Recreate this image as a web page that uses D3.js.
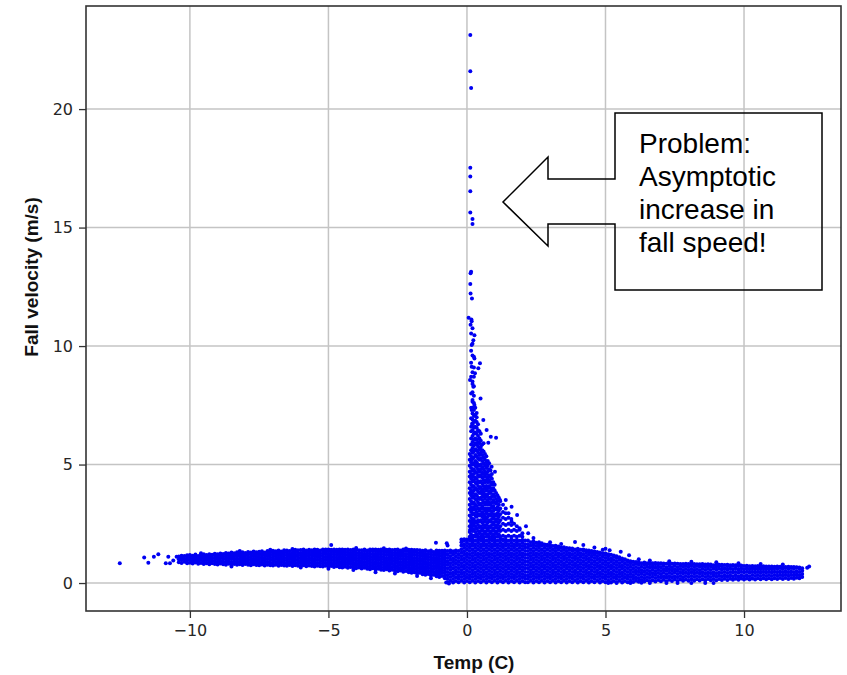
<!DOCTYPE html>
<html>
<head>
    <meta charset="utf-8">
    <title>Fall velocity vs Temp</title>
    <script type="text/javascript" src="https://cdn.jsdelivr.net/npm/d3@7"></script>
    <style>
        body { margin: 0; background: #fff; }
        .tick text { font-family: "DejaVu Sans", sans-serif; font-size: 16px; fill: #262626; }
        .label { font-family: "Liberation Sans", Arial, sans-serif; font-weight: bold; font-size: 19px; fill: #111; }
        .note { font-family: "Liberation Sans", Arial, sans-serif; font-size: 28px; fill: #000; }
    </style>
</head>
<body>
<script type="text/javascript">

    // tick values
    var xTicks = [-10, -5, 0, 5, 10];
    var yTicks = [0, 5, 10, 15, 20];
    var noteLines = ["Problem:", "Asymptotic", "increase in", "fall speed!"];

    // dense band below freezing: [temp, speed, speed, ...]
    var coldBand = [
        [-10.4,.88,1.0,1.12],[-10.3,.85,.97,1.08,1.15],[-10.2,.9,1.02,1.14],[-10.1,.83,.95,1.06,1.17],
        [-10.0,.86,.98,1.1,1.18],[-9.9,.82,.93,1.04,1.15],[-9.8,.87,.99,1.11,1.2],[-9.7,.81,.92,1.03,1.14],
        [-9.6,.85,.97,1.09,1.19],[-9.5,.8,.91,1.02,1.13,1.21],[-9.4,.84,.96,1.08,1.18],[-9.3,.79,.9,1.01,1.12,1.22],
        [-9.2,.83,.95,1.07,1.19],[-9.1,.8,.92,1.04,1.15,1.24],[-9.0,.78,.89,1.0,1.11,1.21],[-8.9,.82,.94,1.06,1.17,1.25],
        [-8.8,.79,.9,1.02,1.13,1.23],[-8.7,.77,.88,.99,1.1,1.21,1.27],[-8.6,.81,.93,1.05,1.16,1.25],[-8.5,.78,.89,1.01,1.12,1.22,1.29],
        [-8.4,.8,.92,1.04,1.15,1.26],[-8.3,.77,.88,1.0,1.11,1.21,1.3],[-8.2,.79,.91,1.03,1.14,1.25],[-8.1,.76,.87,.98,1.09,1.2,1.3],
        [-8.0,.8,.92,1.04,1.16,1.27],[-7.9,.77,.88,.99,1.1,1.21,1.31],[-7.8,.75,.86,.97,1.08,1.19,1.29],[-7.7,.79,.91,1.03,1.15,1.26,1.33],
        [-7.6,.76,.87,.98,1.09,1.2,1.3],[-7.5,.75,.86,.97,1.08,1.2,1.32],[-7.4,.78,.9,1.02,1.14,1.25,1.34],[-7.3,.74,.85,.96,1.07,1.18,1.29],
        [-7.2,.77,.89,1.01,1.13,1.24,1.35],[-7.1,.75,.86,.97,1.08,1.19,1.3],[-7.0,.74,.85,.96,1.07,1.18,1.29,1.36],[-6.9,.77,.89,1.01,1.13,1.24,1.34],
        [-6.8,.73,.84,.95,1.06,1.17,1.28,1.37],[-6.7,.76,.88,1.0,1.12,1.23,1.33],[-6.6,.74,.85,.96,1.07,1.18,1.29,1.38],[-6.5,.73,.84,.95,1.06,1.17,1.28,1.37],
        [-6.4,.76,.88,1.0,1.12,1.24,1.35],[-6.3,.72,.83,.94,1.05,1.16,1.27,1.38],[-6.2,.75,.87,.99,1.11,1.22,1.33,1.4],[-6.1,.73,.84,.95,1.06,1.17,1.28,1.38],
        [-6.0,.72,.83,.94,1.05,1.16,1.27,1.39],[-5.9,.75,.87,.99,1.11,1.22,1.33,1.41],[-5.8,.71,.82,.93,1.04,1.15,1.26,1.37],[-5.7,.74,.86,.98,1.1,1.21,1.32,1.4],
        [-5.6,.72,.83,.94,1.05,1.16,1.27,1.38],[-5.5,.7,.81,.92,1.03,1.14,1.25,1.36,1.41],[-5.4,.73,.85,.97,1.09,1.2,1.31,1.4],[-5.3,.71,.82,.93,1.04,1.15,1.26,1.37],
        [-5.2,.7,.81,.92,1.03,1.14,1.25,1.36,1.42],[-5.1,.73,.85,.97,1.09,1.21,1.32,1.41],[-5.0,.69,.8,.91,1.02,1.13,1.24,1.35,1.42],[-4.9,.72,.84,.96,1.08,1.2,1.31,1.4],
        [-4.8,.68,.79,.9,1.01,1.12,1.23,1.34,1.42],[-4.7,.71,.83,.95,1.07,1.19,1.3,1.4],[-4.6,.67,.78,.89,1.0,1.11,1.22,1.33,1.42],[-4.5,.66,.77,.88,.99,1.1,1.21,1.32,1.41],
        [-4.4,.69,.81,.93,1.05,1.17,1.29,1.4],[-4.3,.65,.76,.87,.98,1.09,1.2,1.31,1.42],[-4.2,.68,.8,.92,1.04,1.16,1.28,1.39],[-4.1,.64,.75,.86,.97,1.08,1.19,1.3,1.41],
        [-4.0,.62,.73,.84,.95,1.06,1.17,1.28,1.39,1.42],[-3.9,.66,.78,.9,1.02,1.14,1.26,1.38],[-3.8,.61,.72,.83,.94,1.05,1.16,1.27,1.38],[-3.7,.64,.76,.88,1.0,1.12,1.24,1.36,1.42],
        [-3.6,.6,.71,.82,.93,1.04,1.15,1.26,1.37],[-3.5,.58,.69,.8,.91,1.02,1.13,1.24,1.35,1.42],[-3.4,.62,.74,.86,.98,1.1,1.22,1.34,1.41],[-3.3,.57,.68,.79,.9,1.01,1.12,1.23,1.34,1.42],
        [-3.2,.6,.72,.84,.96,1.08,1.2,1.32,1.4],[-3.1,.56,.67,.78,.89,1.0,1.11,1.22,1.33,1.42],[-3.0,.55,.66,.77,.88,.99,1.1,1.21,1.32,1.41],[-2.9,.58,.7,.82,.94,1.06,1.18,1.3,1.4],
        [-2.8,.53,.64,.75,.86,.97,1.08,1.19,1.3,1.41],[-2.7,.56,.68,.8,.92,1.04,1.16,1.28,1.39],[-2.6,.52,.63,.74,.85,.96,1.07,1.18,1.29,1.4],[-2.5,.5,.61,.72,.83,.94,1.05,1.16,1.27,1.38,1.41],
        [-2.4,.53,.65,.77,.89,1.01,1.13,1.25,1.37],[-2.3,.48,.59,.7,.81,.92,1.03,1.14,1.25,1.36,1.41],[-2.2,.51,.63,.75,.87,.99,1.11,1.23,1.35,1.4],[-2.1,.45,.56,.67,.78,.89,1.0,1.11,1.22,1.33,1.4],
        [-2.0,.43,.54,.65,.76,.87,.98,1.09,1.2,1.31,1.4],[-1.9,.46,.58,.7,.82,.94,1.06,1.18,1.3,1.39],[-1.8,.4,.51,.62,.73,.84,.95,1.06,1.17,1.28,1.39],[-1.7,.43,.55,.67,.79,.91,1.03,1.15,1.27,1.38],
        [-1.6,.37,.48,.59,.7,.81,.92,1.03,1.14,1.25,1.36],[-1.5,.35,.46,.57,.68,.79,.9,1.01,1.12,1.23,1.34,1.38],[-1.4,.38,.5,.62,.74,.86,.98,1.1,1.22,1.34],[-1.3,.32,.43,.54,.65,.76,.87,.98,1.09,1.2,1.31,1.37],
        [-1.2,.35,.47,.59,.71,.83,.95,1.07,1.19,1.31],[-1.1,.29,.4,.51,.62,.73,.84,.95,1.06,1.17,1.28,1.37],[-1.0,.26,.37,.48,.59,.7,.81,.92,1.03,1.14,1.25,1.36],[-0.9,.3,.42,.54,.66,.78,.9,1.02,1.14,1.26,1.36],
        [-0.8,.2,.31,.42,.53,.64,.75,.86,.97,1.08,1.19,1.3,1.37]
    ];

    // the solid block either side of 0 C
    var meltBlock = [
        [-0.7,.03,.18,.33,.47,.62,.77,.91,1.06,1.2,1.35],[-0.6,.1,.25,.4,.55,.69,.84,.98,1.13,1.28,1.37],
        [-0.5,.02,.17,.32,.46,.61,.76,.9,1.05,1.2,1.34],[-0.4,.09,.24,.39,.53,.68,.83,.97,1.12,1.27,1.37],
        [-0.3,.03,.18,.32,.47,.62,.76,.91,1.06,1.2,1.35],[-0.2,.1,.25,.4,.54,.69,.84,.98,1.13,1.28,1.43,1.58,1.72,1.84],
        [-0.1,.02,.17,.31,.46,.61,.75,.9,1.05,1.19,1.34,1.49,1.63,1.78,1.85],[0.0,.09,.24,.38,.53,.68,.82,.97,1.12,1.26,1.41,1.56,1.7,1.84],
        [0.1,.03,.18,.32,.47,.62,.76,.91,1.06,1.2,1.35,1.5,1.64,1.79,1.85],[0.2,.1,.25,.39,.54,.69,.83,.98,1.13,1.27,1.42,1.57,1.71,1.84],
        [0.3,.02,.17,.31,.46,.61,.75,.9,1.05,1.19,1.34,1.49,1.63,1.78],[0.4,.09,.24,.38,.53,.68,.82,.97,1.12,1.26,1.41,1.56,1.7,1.85],
        [0.5,.03,.18,.32,.47,.62,.76,.91,1.06,1.2,1.35,1.5,1.64,1.79,1.85],[0.6,.1,.25,.39,.54,.69,.83,.98,1.13,1.27,1.42,1.57,1.71,1.84],
        [0.7,.02,.17,.31,.46,.61,.75,.9,1.05,1.19,1.34,1.49,1.63,1.78],[0.8,.09,.24,.38,.53,.68,.82,.97,1.12,1.26,1.41,1.56,1.7,1.85],
        [0.9,.03,.18,.32,.47,.62,.76,.91,1.06,1.2,1.35,1.5,1.64,1.79,1.85],[1.0,.1,.25,.39,.54,.69,.83,.98,1.13,1.27,1.42,1.57,1.71,1.84],
        [1.1,.02,.17,.31,.46,.61,.75,.9,1.05,1.19,1.34,1.49,1.63,1.78],[1.2,.09,.24,.38,.53,.68,.82,.97,1.12,1.26,1.41,1.56,1.7,1.85],
        [1.3,.03,.18,.32,.47,.62,.76,.91,1.06,1.2,1.35,1.5,1.64,1.79,1.84],[1.4,.1,.25,.39,.54,.69,.83,.98,1.13,1.27,1.42,1.57,1.71,1.83],
        [1.5,.02,.17,.31,.46,.61,.75,.9,1.05,1.19,1.34,1.49,1.63,1.78],[1.6,.09,.24,.38,.53,.68,.82,.97,1.12,1.26,1.41,1.56,1.7,1.84],
        [1.7,.03,.18,.32,.47,.62,.76,.91,1.06,1.2,1.35,1.5,1.64,1.79],[1.8,.1,.25,.39,.54,.69,.83,.98,1.13,1.27,1.42,1.57,1.71,1.83],
        [1.9,.02,.17,.31,.46,.61,.75,.9,1.05,1.19,1.34,1.49,1.63,1.78],[2.0,.09,.24,.38,.53,.68,.82,.97,1.12,1.26,1.41,1.56,1.7,1.82],
        [2.1,.03,.18,.32,.47,.62,.76,.91,1.06,1.2,1.35,1.5,1.64,1.8]
    ];

    // the rising plume just above 0 C
    var spikeCore = [
        [0.1,1.95,2.15,2.4,2.62,2.85,3.1,3.3,3.55,3.8,4.0,4.25,4.5,4.7,4.95,5.2,5.45],
        [0.15,2.05,2.3,2.5,2.75,3.0,3.2,3.45,3.7,3.9,4.15,4.4,4.6,4.85,5.1,5.35,5.6,5.85,6.1,6.4,6.6,6.95,7.4,8.0,8.7,9.3,9.8],
        [0.2,1.95,2.2,2.4,2.65,2.9,3.1,3.35,3.6,3.8,4.05,4.3,4.5,4.75,5.0,5.25,5.5,5.7,5.95,6.2,6.45,6.7,6.9,7.15,7.4,7.65,8.05,8.4,8.9,9.6,10.1],
        [0.25,2.0,2.25,2.5,2.7,2.95,3.2,3.4,3.65,3.9,4.1,4.35,4.6,4.8,5.05,5.3,5.55,5.8,6.05,6.3,6.55,6.8,7.05,7.3,7.6,7.9,8.3,8.7,9.1],
        [0.3,1.95,2.15,2.4,2.6,2.85,3.1,3.3,3.55,3.75,4.0,4.25,4.45,4.7,4.95,5.15,5.4,5.65,5.9,6.1,6.35,6.6,6.85,7.1,7.4],
        [0.35,2.05,2.3,2.55,2.8,3.0,3.25,3.5,3.7,3.95,4.2,4.4,4.65,4.9,5.1,5.35,5.6,5.85,6.05,6.3,6.55,6.8,7.0],
        [0.4,1.95,2.2,2.45,2.65,2.9,3.15,3.4,3.6,3.85,4.1,4.3,4.55,4.8,5.0,5.25,5.5,5.75,5.95,6.2,6.45,6.7],
        [0.45,2.1,2.35,2.6,2.85,3.05,3.3,3.55,3.8,4.0,4.25,4.5,4.7,4.95,5.2,5.4,5.65,5.9,6.1,6.4],
        [0.5,1.95,2.2,2.4,2.65,2.9,3.15,3.35,3.6,3.85,4.05,4.3,4.55,4.8,5.0,5.25,5.5,5.75,6.0,6.3],
        [0.55,2.05,2.3,2.55,2.8,3.0,3.25,3.5,3.75,3.95,4.2,4.45,4.65,4.9,5.15,5.4,5.6,5.85],
        [0.6,1.95,2.2,2.45,2.7,2.9,3.15,3.4,3.65,3.85,4.1,4.35,4.6,4.8,5.05,5.3,5.55,5.9],
        [0.65,2.1,2.35,2.6,2.8,3.05,3.3,3.55,3.75,4.0,4.25,4.5,4.7,4.95,5.2,5.45],
        [0.7,1.95,2.2,2.45,2.7,2.95,3.15,3.4,3.65,3.9,4.1,4.35,4.6,4.85,5.1,5.35],
        [0.75,2.05,2.3,2.55,2.8,3.05,3.3,3.5,3.75,4.0,4.25,4.45,4.7,4.95,5.15],
        [0.8,1.95,2.2,2.4,2.65,2.9,3.15,3.4,3.6,3.85,4.1,4.35,4.55,4.8,5.05],
        [0.85,2.1,2.35,2.6,2.85,3.05,3.3,3.55,3.8,4.0,4.25,4.5,4.75],
        [0.9,1.95,2.2,2.45,2.7,2.95,3.2,3.4,3.65,3.9,4.15,4.4,4.6],
        [0.95,2.05,2.3,2.55,2.8,3.05,3.25,3.5,3.75,4.0,4.25],
        [1.0,1.95,2.2,2.45,2.7,2.9,3.15,3.4,3.65,3.9,4.15],
        [1.05,2.1,2.35,2.6,2.85,3.1,3.35,3.55,3.8],
        [1.1,1.95,2.2,2.45,2.7,2.95,3.2,3.45,3.7],
        [1.15,2.05,2.3,2.55,2.8,3.05,3.3,3.6],
        [1.2,1.95,2.2,2.4,2.65,2.9,3.15,3.45],
        [1.3,2.0,2.25,2.5,2.75,3.0,3.3],
        [1.4,1.95,2.2,2.45,2.7,2.95,3.15],
        [1.5,2.0,2.25,2.5,2.75,2.95],
        [1.6,1.95,2.2,2.45,2.7],
        [1.7,2.0,2.25,2.5],
        [1.8,1.95,2.2,2.4],
        [1.9,2.0,2.25],
        [2.0,1.95,2.1]
    ];

    // warm side band, thinning out towards 12 C
    var warmBand = [
        [2.2,.03,.18,.32,.47,.62,.76,.91,1.06,1.2,1.35,1.5,1.64,1.79],[2.3,.1,.25,.39,.54,.69,.83,.98,1.13,1.27,1.42,1.57,1.72],
        [2.4,.02,.17,.31,.46,.61,.75,.9,1.05,1.19,1.34,1.49,1.63,1.76],[2.5,.09,.24,.38,.53,.68,.82,.97,1.12,1.26,1.41,1.56,1.7],
        [2.6,.03,.18,.32,.47,.62,.76,.91,1.06,1.2,1.35,1.5,1.64,1.72],[2.7,.1,.25,.39,.54,.69,.83,.98,1.13,1.27,1.42,1.57,1.68],
        [2.8,.02,.17,.31,.46,.61,.75,.9,1.05,1.19,1.34,1.49,1.63],[2.9,.09,.24,.38,.53,.68,.82,.97,1.12,1.26,1.41,1.56,1.62],
        [3.0,.03,.18,.32,.47,.62,.76,.91,1.06,1.2,1.35,1.5,1.6],[3.1,.1,.25,.39,.54,.69,.83,.98,1.13,1.27,1.42,1.56],
        [3.2,.02,.17,.31,.46,.61,.75,.9,1.05,1.19,1.34,1.48,1.57],[3.3,.09,.24,.38,.53,.68,.82,.97,1.12,1.26,1.41,1.54],
        [3.4,.03,.18,.32,.47,.62,.76,.91,1.06,1.2,1.35,1.5],[3.5,.1,.25,.39,.54,.69,.83,.98,1.13,1.27,1.42,1.51],
        [3.6,.02,.17,.31,.46,.61,.75,.9,1.05,1.19,1.34,1.48],[3.7,.09,.24,.38,.53,.68,.82,.97,1.12,1.26,1.4,1.47],
        [3.8,.03,.18,.32,.47,.62,.76,.91,1.06,1.2,1.35,1.46],[3.9,.1,.25,.39,.54,.69,.83,.98,1.13,1.27,1.41],
        [4.0,.02,.17,.31,.46,.61,.75,.9,1.05,1.19,1.34,1.45],[4.1,.09,.24,.38,.53,.68,.82,.97,1.12,1.26,1.4],
        [4.2,.03,.18,.32,.47,.62,.76,.91,1.06,1.2,1.35,1.41],[4.3,.1,.25,.39,.54,.69,.83,.98,1.13,1.27,1.38],
        [4.4,.02,.17,.31,.46,.61,.75,.9,1.05,1.19,1.32,1.37],[4.5,.09,.24,.38,.53,.68,.82,.97,1.12,1.26,1.35],
        [4.6,.03,.18,.32,.47,.62,.76,.91,1.06,1.2,1.33],[4.7,.1,.25,.39,.54,.69,.83,.98,1.13,1.27,1.31],
        [4.8,.02,.17,.31,.46,.61,.75,.9,1.05,1.19,1.29],[4.9,.09,.24,.38,.53,.68,.82,.97,1.12,1.26],
        [5.0,.03,.18,.32,.47,.62,.76,.91,1.06,1.2,1.25],[5.1,.1,.25,.39,.54,.69,.83,.98,1.13,1.22],
        [5.2,.02,.17,.31,.46,.61,.75,.9,1.05,1.19],[5.3,.09,.24,.38,.53,.68,.82,.97,1.12,1.16],
        [5.4,.03,.18,.32,.47,.62,.76,.91,1.06,1.13],[5.5,.1,.25,.39,.54,.69,.83,.98,1.09],
        [5.6,.02,.17,.31,.46,.61,.75,.9,1.04],[5.7,.09,.24,.38,.53,.68,.82,.97,1.0],
        [5.8,.03,.18,.32,.47,.62,.76,.91,.95],[5.9,.1,.25,.39,.54,.69,.83,.92],
        [6.0,.04,.18,.32,.47,.61,.76,.9],[6.1,.1,.24,.39,.53,.68,.82,.89],
        [6.2,.05,.19,.34,.48,.62,.77,.88],[6.3,.11,.25,.4,.54,.69,.83],
        [6.4,.06,.2,.34,.49,.63,.78,.87],[6.5,.12,.26,.41,.55,.7,.84],
        [6.6,.06,.21,.35,.5,.64,.79,.86],[6.7,.12,.27,.41,.56,.7,.84],
        [6.8,.07,.21,.36,.5,.65,.79,.85],[6.9,.13,.27,.42,.56,.71,.84],
        [7.0,.08,.22,.37,.51,.66,.8,.83],[7.1,.14,.28,.43,.57,.72,.82],
        [7.2,.08,.23,.37,.52,.66,.81],[7.3,.14,.29,.43,.58,.72,.82],
        [7.4,.09,.23,.38,.52,.67,.81],[7.5,.15,.29,.44,.58,.73,.82],
        [7.6,.09,.24,.38,.53,.67,.81],[7.7,.15,.3,.44,.59,.73,.8],
        [7.8,.1,.24,.39,.53,.68,.8],[7.9,.15,.3,.44,.59,.73,.81],
        [8.0,.1,.25,.39,.54,.68,.8],[8.1,.16,.3,.45,.59,.74,.79],
        [8.2,.1,.25,.39,.54,.68,.8],[8.3,.16,.3,.45,.59,.74,.79],
        [8.4,.11,.25,.4,.54,.69,.79],[8.5,.16,.31,.45,.6,.74,.8],
        [8.6,.11,.26,.4,.55,.69,.78],[8.7,.17,.31,.46,.6,.75,.79],
        [8.8,.12,.26,.41,.55,.7,.78],[8.9,.17,.32,.46,.61,.75],
        [9.0,.12,.27,.41,.56,.7,.78],[9.1,.17,.32,.46,.61,.75,.77],
        [9.2,.13,.27,.42,.56,.71,.77],[9.3,.18,.32,.47,.61,.76],
        [9.4,.13,.28,.42,.57,.71,.77],[9.5,.18,.33,.47,.62,.75],
        [9.6,.14,.28,.43,.57,.72,.76],[9.7,.18,.33,.47,.62,.75],
        [9.8,.14,.28,.43,.57,.72,.75],[9.9,.19,.33,.48,.62,.74],
        [10.0,.15,.29,.44,.58,.72],[10.1,.19,.33,.48,.62,.73],
        [10.2,.15,.29,.44,.58,.71],[10.3,.19,.34,.48,.62,.72],
        [10.4,.15,.3,.44,.58,.71],[10.5,.2,.34,.48,.62,.72],
        [10.6,.16,.3,.44,.58,.7],[10.7,.2,.34,.48,.62,.71],
        [10.8,.16,.3,.44,.58,.7],[10.9,.2,.34,.48,.62,.7],
        [11.0,.16,.3,.44,.58,.7],[11.1,.2,.34,.48,.62,.69],
        [11.2,.17,.31,.45,.59,.7],[11.3,.21,.35,.49,.63,.69],
        [11.4,.17,.31,.45,.59,.69],[11.5,.21,.35,.49,.63,.68],
        [11.6,.17,.31,.45,.59,.69],[11.7,.21,.35,.49,.63,.68],
        [11.8,.18,.32,.46,.6,.68],[11.9,.22,.36,.5,.64,.67],
        [12.0,.2,.33,.47,.61,.66],[12.1,.25,.38,.52,.62]
    ];

    // single scattered points: [temp, speed]
    var strayPoints = [
        [-12.53,.83],[-11.65,1.08],[-11.5,.86],[-11.3,1.11],[-11.14,1.21],[-10.87,.83],[-10.78,1.11],[-10.72,.83],[-10.48,1.11],[-10.6,.95],
        [-9.6,1.26],[-8.2,1.35],[-7.1,1.4],[-6.3,1.44],[-4.9,1.6],[-4.0,1.48],[-3.0,1.47],[-2.2,1.46],[-1.12,1.7],[-0.73,1.68],[-0.7,1.58],
        [-8.5,.7],[-6.0,.66],[-5.0,.6],[-4.1,.55],[-3.3,.46],[-2.6,.4],[-1.8,.3],[-1.3,.2],[-0.75,.02],[-0.65,-.02],
        [2.4,1.9],[3.0,1.72],[3.4,1.65],[3.9,1.73],[4.2,1.6],[4.6,1.5],[4.9,1.4],[5.0,1.45],[5.15,1.38],[5.55,1.32],[5.85,1.17],
        [6.2,1.0],[6.6,.95],[7.3,.92],[8.1,.9],[9.0,.88],[9.8,.84],[10.6,.8],[11.4,.78],[12.28,.65],[12.35,.7],
        [5.1,0],[5.4,0],[5.9,0],[6.3,.01],[6.6,0],[7.2,0],[7.6,0],[8.1,0],[8.6,0],[8.9,0],
        [0.12,23.13],[0.12,21.6],[0.15,20.89],[0.12,17.52],[0.12,17.15],[0.12,16.53],[0.12,15.64],[0.2,15.36],[0.2,15.15],
        [0.13,13.07],[0.15,13.14],[0.12,12.62],[0.13,12.22],[0.18,12.01],[0.06,11.19],[0.16,11.12],[0.17,11.05],[0.13,10.9],
        [0.2,10.75],[0.15,10.53],[0.27,10.46],[0.23,10.25],[0.17,10.04],[0.25,9.55],[0.27,9.48],[0.47,9.27],[0.17,9.13],
        [0.41,9.06],[0.29,8.85],[0.11,8.57],[0.2,8.5],[0.23,8.28],[0.49,7.79],[0.2,7.72],[0.27,7.51],[0.17,7.3],[0.35,7.17],
        [0.59,6.88],[0.19,6.73],[0.71,6.46],[1.05,6.13],[0.86,6.17],[0.77,5.92],[0.47,5.7],[0.17,5.19],[0.71,4.94],[0.89,4.91],
        [1.01,4.7],[1.19,3.5],[1.4,3.5],[1.61,3.22],[1.81,2.87],[1.61,2.6],[2.13,2.4],[2.21,2.1],[1.9,2.31],[0.11,2.24],[0.17,2.6]
    ];

    var width = 847, height = 675,
        margins = {top: 6, left: 86, right: 6, bottom: 64};

    var x = d3.scaleLinear().domain([-13.75, 13.5]).range([margins.left, width - margins.right]);
    var y = d3.scaleLinear().domain([-1.18, 24.35]).range([height - margins.bottom, margins.top]);

    // columns -> flat list of points
    function unpack(columns)
    {
        var out = [];
        columns.forEach(function (c) {
            for (var i = 1; i < c.length; i++) out.push([c[0], c[i]]);
        });
        return out;
    }

    var points = unpack(coldBand)
        .concat(unpack(meltBlock))
        .concat(unpack(spikeCore))
        .concat(unpack(warmBand))
        .concat(strayPoints);

    var svg = d3.select("body").append("svg")
        .attr("width", width)
        .attr("height", height);

    svg.append("rect").attr("width", width).attr("height", height).attr("fill", "#fff");

    // grid
    var grid = svg.append("g").attr("stroke", "#c4c4c4").attr("stroke-width", 1.5);
    grid.selectAll("line.gx").data(xTicks).enter().append("line")
        .attr("x1", function (d) { return x(d); }).attr("x2", function (d) { return x(d); })
        .attr("y1", y.range()[0]).attr("y2", y.range()[1]);
    grid.selectAll("line.gy").data(yTicks).enter().append("line")
        .attr("y1", function (d) { return y(d); }).attr("y2", function (d) { return y(d); })
        .attr("x1", x.range()[0]).attr("x2", x.range()[1]);

    // scatter
    svg.append("g").attr("fill", "#0000f2")
        .selectAll("circle").data(points).enter().append("circle")
        .attr("cx", function (d) { return x(d[0]); })
        .attr("cy", function (d) { return y(d[1]); })
        .attr("r", 2);

    // axes
    var minus = function (d) { return d < 0 ? "\u2212" + Math.abs(d) : d; };

    var xAxis = svg.append("g")
        .attr("transform", "translate(0," + y.range()[0] + ")")
        .call(d3.axisBottom(x).tickValues(xTicks).tickSize(7).tickPadding(7).tickFormat(minus));
    var yAxis = svg.append("g")
        .attr("transform", "translate(" + x.range()[0] + ",0)")
        .call(d3.axisLeft(y).tickValues(yTicks).tickSize(7).tickPadding(6).tickFormat(minus));

    [xAxis, yAxis].forEach(function (a) {
        a.select(".domain").remove();
        a.selectAll(".tick line").attr("stroke", "#333").attr("stroke-width", 1.3);
    });

    // frame
    svg.append("rect")
        .attr("x", x.range()[0]).attr("y", y.range()[1])
        .attr("width", x.range()[1] - x.range()[0])
        .attr("height", y.range()[0] - y.range()[1])
        .attr("fill", "none").attr("stroke", "#333").attr("stroke-width", 1.6);

    svg.append("text").attr("class", "label")
        .attr("x", 474).attr("y", 669)
        .attr("text-anchor", "middle")
        .text("Temp (C)");

    svg.append("text").attr("class", "label")
        .attr("transform", "translate(38,277) rotate(-90)")
        .attr("text-anchor", "middle")
        .text("Fall velocity (m/s)");

    // callout: box with a block arrow pointing at the spike
    var callout = d3.path();
    callout.moveTo(615, 179);
    callout.lineTo(548, 179);
    callout.lineTo(548, 157);
    callout.lineTo(503, 202);
    callout.lineTo(548, 246);
    callout.lineTo(548, 224);
    callout.lineTo(615, 224);
    callout.lineTo(615, 290);
    callout.lineTo(822, 290);
    callout.lineTo(822, 113);
    callout.lineTo(615, 113);
    callout.closePath();

    svg.append("path")
        .attr("d", callout.toString())
        .attr("fill", "none")
        .attr("stroke", "#000")
        .attr("stroke-width", 1.5);

    svg.append("g").selectAll("text").data(noteLines).enter().append("text")
        .attr("class", "note")
        .attr("x", 639)
        .attr("y", function (d, i) { return 153 + i * 33; })
        .text(function (d) { return d; });

</script>
</body>
</html>
